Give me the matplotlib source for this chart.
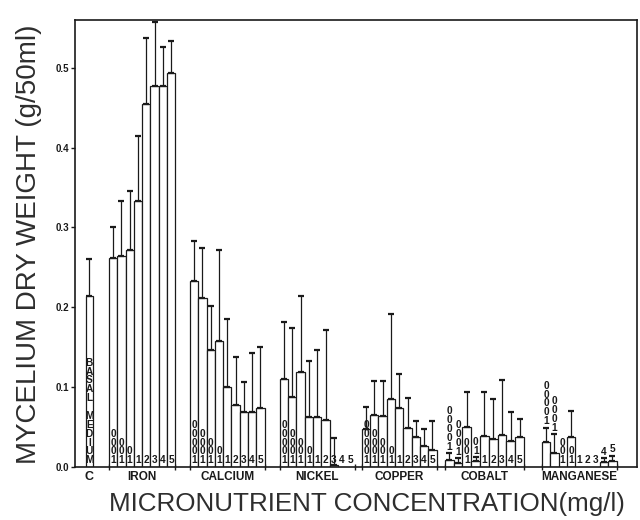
import numpy as np
import matplotlib
matplotlib.use("Agg")
import matplotlib.pyplot as plt
from matplotlib.transforms import blended_transform_factory

# mycelium dry weight (g/50ml), mean and upper deviation
control_val = 0.214
control_err = 0.047

groups = ["IRON", "CALCIUM", "NICKEL", "COPPER", "COBALT", "MANGANESE"]

iron_conc = ["0001", "001", "01", "1", "2", "3", "4", "5"]
iron_vals = [0.262, 0.264, 0.272, 0.333, 0.455, 0.477, 0.477, 0.493]
iron_err = [0.038, 0.069, 0.073, 0.082, 0.082, 0.080, 0.049, 0.041]

calcium_conc = ["00001", "0001", "001", "01", "1", "2", "3", "4", "5"]
calcium_vals = [0.233, 0.211, 0.146, 0.158, 0.100, 0.078, 0.069, 0.069, 0.074]
calcium_err = [0.050, 0.063, 0.055, 0.114, 0.085, 0.060, 0.037, 0.074, 0.076]

nickel_conc = ["00001", "0001", "001", "01", "1", "2", "3", "4", "5"]
nickel_vals = [0.110, 0.088, 0.119, 0.063, 0.063, 0.059, 0.003, 0.0, 0.0]
nickel_err = [0.071, 0.086, 0.095, 0.070, 0.083, 0.112, 0.033, 0.0, 0.0]

copper_conc = ["00001", "0001", "001", "01", "1", "2", "3", "4", "5"]
copper_vals = [0.048, 0.065, 0.064, 0.085, 0.074, 0.049, 0.038, 0.026, 0.021]
copper_err = [0.027, 0.043, 0.044, 0.106, 0.042, 0.037, 0.020, 0.022, 0.037]

cobalt_conc = ["00001", "0001", "001", "01", "1", "2", "3", "4", "5"]
cobalt_vals = [0.009, 0.005, 0.050, 0.008, 0.039, 0.035, 0.040, 0.033, 0.038]
cobalt_err = [0.008, 0.006, 0.044, 0.004, 0.055, 0.050, 0.069, 0.036, 0.022]
cobalt_above = [1, 1, 0, 1, 0, 0, 0, 0, 0]

manganese_conc = ["00001", "0001", "001", "01", "1", "2", "3", "4", "5"]
manganese_vals = [0.031, 0.018, 0.0, 0.037, 0.0, 0.0, 0.0, 0.006, 0.007]
manganese_err = [0.018, 0.023, 0.0, 0.033, 0.0, 0.0, 0.0, 0.005, 0.007]
manganese_above = [1, 1, 0, 0, 0, 0, 0, 1, 1]

all_conc = [iron_conc, calcium_conc, nickel_conc, copper_conc, cobalt_conc, manganese_conc]
all_vals = [iron_vals, calcium_vals, nickel_vals, copper_vals, cobalt_vals, manganese_vals]
all_err = [iron_err, calcium_err, nickel_err, copper_err, cobalt_err, manganese_err]
all_above = [[0] * 8, [0] * 9, [0] * 9, [0] * 9, cobalt_above, manganese_above]

# layout, in bar-slot units
starts = [4.1, 13.86, 24.7, 34.58, 44.58, 56.27]
widths = [1.0, 1.0, 1.0, 1.0, 1.06, 1.0]
control_x = 1.75

ink = "#1a1a1a"
plt.rcParams["font.family"] = ["Liberation Sans", "DejaVu Sans"]

fig = plt.figure(figsize=(6.4, 5.2), dpi=100)
ax = fig.add_axes([0.117, 0.102, 0.878, 0.860])

bar_kw = dict(color="white", edgecolor=ink, linewidth=0.9, zorder=2)
err_kw = dict(fmt="none", ecolor=ink, elinewidth=0.9, capsize=2.5, capthick=1.6, zorder=3)
lab_kw = dict(ha="center", va="bottom", fontsize=7.3, fontweight="bold",
              linespacing=0.86, color=ink, zorder=4)

# basal medium control
ax.bar([control_x], [control_val], width=0.85, **bar_kw)
ax.errorbar([control_x], [control_val], yerr=[[0], [control_err]], **err_kw)
ax.text(control_x, 0.002, "\n".join("BASAL MEDIUM"), **lab_kw)

trans = blended_transform_factory(ax.transData, ax.transAxes)
ax.text(control_x, -0.008, "C", transform=trans, ha="center", va="top",
        fontsize=9, fontweight="bold", color=ink)

edges = []
for name, conc, vals, err, above, x0, w in zip(groups, all_conc, all_vals, all_err,
                                               all_above, starts, widths):
    vals = np.array(vals)
    err = np.array(err)
    x = x0 + (np.arange(len(vals)) + 0.5) * w
    drawn = vals > 0
    ax.bar(x[drawn], vals[drawn], width=w, **bar_kw)
    has_err = err > 0
    ax.errorbar(x[has_err], vals[has_err],
                yerr=[np.zeros(has_err.sum()), err[has_err]], **err_kw)
    for xi, c, v, e, up in zip(x, conc, vals, err, above):
        y = v + e + 0.002 if up else 0.002
        ax.text(xi, y, "\n".join(c), **lab_kw)
    ax.text(x0 + len(vals) * w / 2, -0.008, name, transform=trans, ha="center",
            va="top", fontsize=8.5, fontweight="bold", color=ink)
    edges += [x0, x0 + len(vals) * w]

ax.set_xlim(0, 67.7)
ax.set_ylim(0, 0.56)
ax.set_xticks(edges)
ax.set_xticklabels([])
ax.tick_params(axis="x", direction="inout", length=5, width=1, color=ink)
ax.set_yticks([0.0, 0.1, 0.2, 0.3, 0.4, 0.5])
ax.set_yticklabels(["0.0", "0.1", "0.2", "0.3", "0.4", "0.5"], fontsize=7,
                   fontweight="bold", color=ink)
ax.tick_params(axis="y", direction="out", length=3, width=1, color=ink, pad=1)
for s in ax.spines.values():
    s.set_linewidth(1.2)
    s.set_color(ink)

fig.text(0.045, 0.53, "MYCELIUM DRY WEIGHT (g/50ml)", rotation=90, ha="center",
         va="center", fontsize=20, color="#2e2e2e")
fig.text(0.574, 0.03, "MICRONUTRIENT CONCENTRATION(mg/l)", ha="center",
         va="center", fontsize=18.7, color="#2e2e2e")

fig.savefig("out.png", dpi=100, facecolor="white")
